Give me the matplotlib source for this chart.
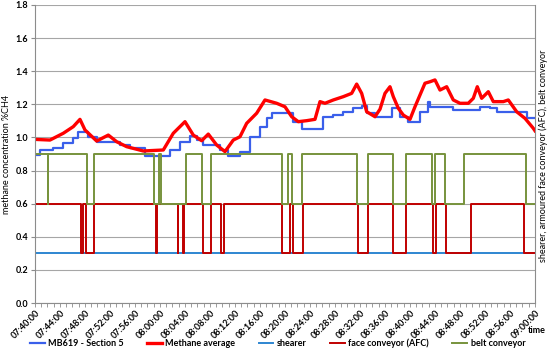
import matplotlib
matplotlib.use("Agg")
import matplotlib.pyplot as plt
from matplotlib.ticker import MultipleLocator, FuncFormatter

plt.rcParams['font.family'] = ['Lato', 'DejaVu Sans']

# minutes after 07:40:00
mb619_t = [0, 0.8, 2.93, 4.53, 6.13, 6.88, 8.48, 9.92, 13.6, 15.2, 17.6, 20.48, 21.6, 23.2,
           24.8, 25.87, 26.93, 28.48, 29.6, 30.93, 32.8, 34.4, 36.0, 37.07, 37.92, 40.32,
           41.33, 42.72, 44.8, 46.13, 47.73, 49.33, 50.93, 52.27, 53.07, 54.4, 55.2, 57.07,
           58.4, 59.68, 60.8, 61.6, 62.93, 63.2, 65.92, 66.88, 70.08, 71.2, 72.8, 73.92,
           77.12, 78.72, 80]
mb619_v = [0.894, 0.924, 0.934, 0.964, 0.994, 1.031, 1.004, 0.974, 0.954, 0.934, 0.888, 0.888,
           0.924, 0.974, 1.01, 0.984, 0.954, 0.954, 0.924, 0.89, 0.914, 1.004, 1.065, 1.115,
           1.146, 1.146, 1.095, 1.049, 1.049, 1.125, 1.135, 1.155, 1.176, 1.191, 1.146, 1.125,
           1.125, 1.176, 1.125, 1.095, 1.095, 1.155, 1.216, 1.185, 1.185, 1.166, 1.166, 1.185,
           1.176, 1.155, 1.155, 1.115, 1.115]

avg_t = [0, 2.4, 4.53, 6.13, 7.2, 8.0, 9.87, 11.73, 13.07, 14.67, 17.33, 20.53, 22.13, 24.0,
         25.33, 26.67, 27.73, 29.07, 30.4, 31.73, 32.8, 33.87, 35.47, 36.8, 38.67, 40.0,
         41.07, 42.13, 43.47, 44.8, 45.6, 46.4, 47.73, 49.33, 50.67, 51.47, 52.27, 53.07,
         54.4, 55.2, 56.0, 56.8, 57.33, 58.13, 58.93, 60.0, 60.8, 61.6, 62.4, 63.2, 64.0,
         64.8, 65.87, 66.93, 68.0, 69.33, 70.13, 70.77, 71.47, 72.53, 73.33, 74.93, 75.73,
         77.07, 78.4, 79.73, 80]
avg_v = [0.988, 0.984, 1.025, 1.065, 1.109, 1.045, 0.978, 1.014, 0.974, 0.944, 0.918, 0.924,
         1.025, 1.095, 1.014, 0.98, 1.02, 0.954, 0.914, 0.984, 1.004, 1.085, 1.146, 1.226,
         1.206, 1.185, 1.125, 1.095, 1.101, 1.109, 1.216, 1.206, 1.226, 1.246, 1.266, 1.322,
         1.266, 1.155, 1.125, 1.17, 1.266, 1.306, 1.246, 1.176, 1.135, 1.109, 1.185, 1.256,
         1.327, 1.336, 1.347, 1.286, 1.306, 1.226, 1.206, 1.206, 1.236, 1.306, 1.236, 1.276,
         1.216, 1.216, 1.226, 1.155, 1.115, 1.055, 1.04]

shearer_t = [0, 80]
shearer_v = [0.3, 0.3]

afc_t = [0, 7.4, 7.75, 8.2, 9.4, 19.35, 19.5, 22.85, 22.95, 23.75, 23.85, 26.85, 28.1,
         29.75, 30.3, 39.5, 40.8, 41.35, 42.9, 51.65, 53.3, 57.3, 59.3, 63.7, 64.1, 65.7,
         69.8, 78.2, 80]
afc_v = [0.6, 0.3, 0.6, 0.3, 0.6, 0.3, 0.6, 0.3, 0.6, 0.3, 0.6, 0.3, 0.6, 0.3, 0.6, 0.3,
         0.6, 0.3, 0.6, 0.3, 0.6, 0.3, 0.6, 0.3, 0.6, 0.3, 0.6, 0.3, 0.3]

belt_t = [0, 2.1, 2.15, 8.3, 9.45, 19.0, 19.9, 20.2, 24.2, 26.8, 28.15, 39.5, 40.55, 41.15,
          42.75, 51.6, 53.25, 57.3, 59.3, 63.55, 64.0, 65.6, 68.7, 78.5, 80]
belt_v = [0.9, 0.6, 0.9, 0.6, 0.9, 0.6, 0.9, 0.6, 0.9, 0.6, 0.9, 0.6, 0.9, 0.6, 0.9, 0.6,
          0.9, 0.6, 0.9, 0.6, 0.9, 0.6, 0.9, 0.6, 0.6]


def time_label(m, pos):
    total = 7 * 60 + 40 + int(round(m))
    return "%02d:%02d:00" % (total // 60, total % 60)


fig = plt.figure(figsize=(5.5, 3.53), dpi=100)
ax = fig.add_axes([0.0636, 0.1416, 0.9091, 0.8445])

ax.plot(mb619_t, mb619_v, color='#3A5FEA', lw=1.6, drawstyle='steps-post', label='MB619 - Section 5')
ax.plot(avg_t, avg_v, color='#FF0000', lw=2.4, label='Methane average')
ax.plot(shearer_t, shearer_v, color='#2E86D1', lw=1.4, label='shearer')
ax.plot(afc_t, afc_v, color='#C00000', lw=1.4, drawstyle='steps-post', label='face conveyor (AFC)')
ax.plot(belt_t, belt_v, color='#77933C', lw=1.4, drawstyle='steps-post', label='belt conveyor')

ax.set_xlim(0, 80)
ax.set_ylim(0, 1.8)
ax.yaxis.set_major_locator(MultipleLocator(0.2))
ax.yaxis.set_major_formatter(FuncFormatter(lambda v, p: "%.1f" % v))
ax.xaxis.set_major_locator(MultipleLocator(4))
ax.xaxis.set_minor_locator(MultipleLocator(1))
ax.xaxis.set_major_formatter(FuncFormatter(time_label))
ax.grid(axis='y', color='#A6A6A6', lw=0.8)
ax.set_axisbelow(True)

for s in ['left', 'bottom', 'right']:
    ax.spines[s].set_color('#8C8C8C')
ax.spines['top'].set_visible(False)

ax.tick_params(axis='y', length=3, width=0.8, color='#8C8C8C', labelsize=6.5, pad=2)
ax.tick_params(axis='x', which='both', direction='out', length=3, width=0.6, color='#8C8C8C',
               labelsize=6.5, pad=1)
for lab in ax.get_yticklabels():
    lab.set_fontweight('bold')
for lab in ax.get_xticklabels():
    lab.set_fontweight('bold')
    lab.set_rotation(45)
    lab.set_ha('right')
    lab.set_rotation_mode('anchor')

ax.set_ylabel('methane concentration %CH4', fontsize=6.5, labelpad=3)
fig.text(0.992, 0.065, 'time', fontsize=6.5, fontweight='bold', ha='right', va='center')
fig.text(0.988, 0.56, 'shearer, armoured face conveyor (AFC), belt conveyor', fontsize=6.5,
         rotation=90, ha='center', va='center')

fig.legend(loc='lower left', bbox_to_anchor=(0.04, -0.01), ncol=5, frameon=False,
           prop={'size': 6.5, 'weight': 'bold'}, handlelength=1.6, columnspacing=2.6,
           handletextpad=0.4)

fig.savefig('out.png', dpi=100)
plt.close('all')
